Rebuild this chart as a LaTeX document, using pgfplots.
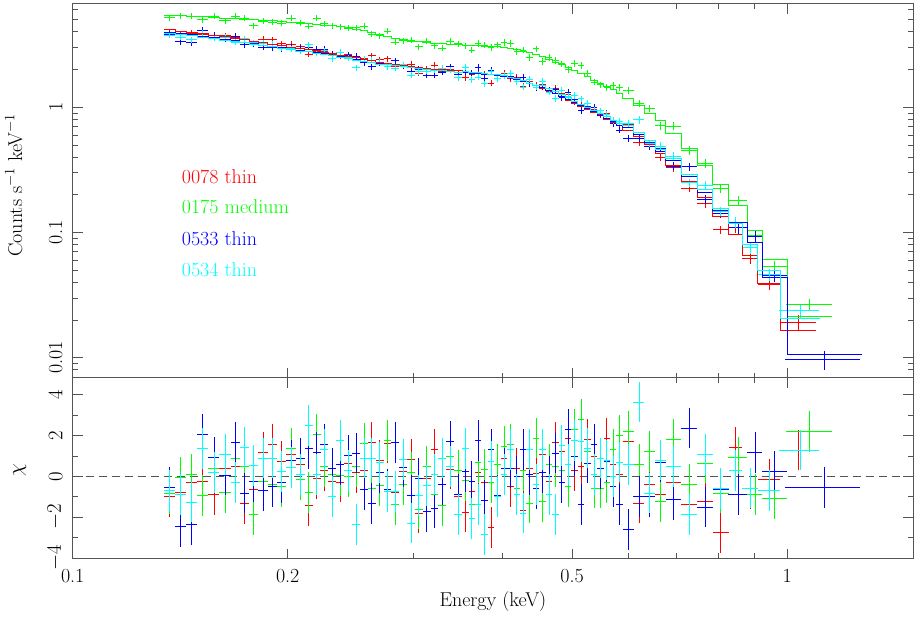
\documentclass[border=0pt]{standalone}
\usepackage{pgfplots}
\pgfplotsset{compat=1.18}
\usepackage{pgfplotstable}
\definecolor{cR}{rgb}{1,0,0}
\definecolor{cG}{rgb}{0,1,0}
\definecolor{cB}{rgb}{0,0,1}
\definecolor{cC}{rgb}{0,1,1}
\definecolor{cF}{rgb}{0.33,0.33,0.33}
\begin{document}
\pgfplotstableread{
E L fx f mR yR rR mG yG rG mB yB rB mC yC rC
0.1367 0.1343 0.0178 0.055 4.15 3.92 -1.00 5.45 5.19 -0.85 3.96 3.85 -0.52 3.90 3.75 -0.70
0.1417 0.1392 0.0178 0.055 4.05 3.87 -0.80 5.39 5.38 -0.05 3.87 3.35 -2.45 3.81 3.62 -0.90
0.1468 0.1442 0.0178 0.055 3.96 3.89 -0.30 5.33 5.35 0.08 3.78 3.29 -2.37 3.72 3.46 -1.26
0.1521 0.1495 0.0178 0.055 3.86 3.81 -0.25 5.27 4.99 -0.95 3.69 4.11 2.07 3.63 3.90 1.36
0.1577 0.1549 0.0178 0.055 3.75 3.57 -0.87 5.21 5.32 0.38 3.58 3.76 0.93 3.53 3.57 0.20
0.1634 0.1605 0.0178 0.055 3.64 3.72 0.41 5.15 4.92 -0.80 3.48 3.49 0.07 3.42 3.62 1.06
0.1689 0.1663 0.0150 0.055 3.54 3.64 0.50 5.08 5.33 0.88 3.40 3.71 1.65 3.36 3.31 -0.29
0.1740 0.1714 0.0150 0.055 3.45 3.20 -1.32 5.03 5.16 0.47 3.31 3.16 -0.82 3.28 3.54 1.42
0.1793 0.1766 0.0150 0.055 3.36 3.24 -0.65 4.98 4.47 -1.85 3.23 3.18 -0.26 3.19 3.28 0.54
0.1847 0.1820 0.0150 0.055 3.27 3.48 1.19 4.93 4.86 -0.25 3.14 3.02 -0.69 3.11 3.26 0.90
0.1903 0.1875 0.0150 0.055 3.19 3.46 1.55 4.89 4.78 -0.41 3.06 2.98 -0.49 3.03 3.18 0.90
0.1961 0.1932 0.0150 0.055 3.10 3.23 0.74 4.84 4.71 -0.49 2.98 2.93 -0.30 2.95 2.99 0.25
0.2021 0.1991 0.0150 0.055 3.02 3.20 1.06 4.79 5.16 1.39 2.90 3.02 0.77 2.87 2.94 0.44
0.2082 0.2051 0.0150 0.055 2.95 3.05 0.60 4.73 4.69 -0.16 2.83 2.97 0.87 2.80 2.82 0.10
0.2140 0.2113 0.0127 0.055 2.89 2.66 -1.42 4.66 4.46 -0.78 2.80 3.01 1.36 2.77 3.15 2.50
0.2196 0.2168 0.0127 0.055 2.82 2.80 -0.10 4.60 5.12 2.04 2.74 2.92 1.19 2.71 2.72 0.08
0.2251 0.2223 0.0127 0.055 2.76 2.81 0.30 4.53 4.65 0.50 2.68 2.91 1.55 2.65 2.84 1.30
0.2309 0.2280 0.0127 0.055 2.69 2.65 -0.25 4.46 4.48 0.10 2.61 2.67 0.41 2.58 2.44 -0.98
0.2369 0.2339 0.0127 0.055 2.61 2.57 -0.28 4.38 4.39 0.05 2.53 2.61 0.57 2.51 2.75 1.76
0.2430 0.2399 0.0127 0.055 2.54 2.63 0.64 4.30 4.30 0.00 2.46 2.60 1.01 2.44 2.48 0.30
0.2491 0.2460 0.0127 0.055 2.48 2.51 0.20 4.21 4.33 0.50 2.41 2.56 1.14 2.38 2.07 -2.37
0.2556 0.2524 0.0127 0.055 2.41 2.45 0.30 4.09 4.46 1.63 2.34 2.26 -0.65 2.31 2.42 0.90
0.2621 0.2588 0.0127 0.055 2.35 2.57 1.67 3.96 3.83 -0.60 2.28 2.11 -1.34 2.26 2.37 0.90
0.2689 0.2655 0.0127 0.055 2.29 2.39 0.80 3.83 3.74 -0.44 2.22 2.24 0.20 2.20 2.28 0.69
0.2758 0.2723 0.0127 0.055 2.24 2.44 1.63 3.69 4.05 1.75 2.20 2.12 -0.65 2.20 2.11 -0.73
0.2829 0.2793 0.0127 0.055 2.19 2.10 -0.78 3.57 3.30 -1.39 2.15 2.35 1.67 2.15 2.06 -0.74
0.2901 0.2864 0.0127 0.055 2.14 2.17 0.25 3.47 3.40 -0.38 2.10 2.15 0.46 2.10 2.19 0.82
0.2975 0.2938 0.0127 0.055 2.10 2.20 0.85 3.38 3.42 0.20 2.06 1.95 -0.93 2.06 1.80 -2.29
0.3051 0.3013 0.0127 0.055 2.07 1.87 -1.80 3.33 3.04 -1.60 2.03 2.02 -0.08 2.03 1.92 -0.95
0.3129 0.3090 0.0127 0.055 2.04 2.03 -0.08 3.29 3.38 0.49 2.00 1.81 -1.72 2.00 1.95 -0.44
0.3210 0.3170 0.0127 0.055 2.01 2.16 1.34 3.25 3.09 -0.87 1.97 1.80 -1.55 1.97 1.98 0.08
0.3292 0.3251 0.0127 0.055 1.99 1.95 -0.38 3.22 2.97 -1.42 1.95 1.91 -0.38 1.95 2.05 0.90
0.3377 0.3334 0.0127 0.055 1.97 2.01 0.36 3.19 3.36 0.98 1.93 2.11 1.72 1.93 1.98 0.49
0.3464 0.3420 0.0127 0.055 1.95 1.84 -0.98 3.16 3.21 0.30 1.91 1.82 -0.90 1.91 1.72 -1.85
0.3545 0.3508 0.0104 0.06 1.93 1.73 -1.75 3.14 3.10 -0.20 1.91 1.94 0.25 1.93 2.09 1.36
0.3619 0.3582 0.0104 0.06 1.91 1.83 -0.74 3.12 2.86 -1.39 1.89 1.86 -0.25 1.91 1.67 -2.08
0.3695 0.3657 0.0104 0.06 1.89 1.91 0.20 3.10 3.23 0.69 1.87 2.07 1.76 1.89 1.74 -1.36
0.3772 0.3733 0.0104 0.06 1.86 1.83 -0.31 3.08 3.14 0.33 1.84 1.71 -1.19 1.86 1.54 -2.86
0.3851 0.3811 0.0104 0.06 1.84 1.56 -2.50 3.06 3.00 -0.30 1.82 1.97 1.34 1.84 1.92 0.74
0.3932 0.3891 0.0104 0.06 1.81 1.70 -0.98 3.04 3.15 0.60 1.79 1.69 -0.93 1.81 1.70 -0.98
0.4014 0.3973 0.0104 0.06 1.78 1.88 0.90 3.01 3.28 1.47 1.76 1.80 0.40 1.78 1.79 0.10
0.4098 0.4056 0.0104 0.06 1.74 1.69 -0.50 2.96 3.24 1.55 1.72 1.76 0.41 1.74 1.88 1.31
0.4184 0.4141 0.0104 0.06 1.69 1.73 0.38 2.89 2.79 -0.60 1.67 1.67 0.00 1.69 1.60 -0.90
0.4271 0.4227 0.0104 0.06 1.63 1.47 -1.68 2.81 2.86 0.30 1.61 1.74 1.31 1.63 1.45 -1.80
0.4361 0.4316 0.0104 0.06 1.56 1.60 0.41 2.72 2.51 -1.31 1.54 1.55 0.10 1.56 1.68 1.31
0.4452 0.4406 0.0104 0.06 1.49 1.50 0.16 2.63 2.93 1.88 1.48 1.43 -0.60 1.49 1.45 -0.41
0.4545 0.4498 0.0104 0.06 1.42 1.51 1.09 2.52 2.33 -1.23 1.43 1.45 0.20 1.48 1.60 1.31
0.4641 0.4593 0.0104 0.06 1.35 1.33 -0.25 2.41 2.50 0.60 1.36 1.36 0.00 1.40 1.32 -0.90
0.4738 0.4689 0.0104 0.06 1.28 1.41 1.68 2.29 2.36 0.50 1.29 1.38 1.14 1.33 1.18 -1.88
0.4837 0.4787 0.0104 0.06 1.21 1.30 1.20 2.18 2.22 0.28 1.22 1.20 -0.30 1.26 1.37 1.50
0.4938 0.4887 0.0104 0.06 1.14 1.27 1.88 2.07 2.01 -0.50 1.15 1.31 2.29 1.19 1.23 0.60
0.5041 0.4989 0.0104 0.06 1.08 1.10 0.30 1.96 2.23 2.30 1.09 1.16 1.00 1.12 1.24 1.76
0.5147 0.5094 0.0104 0.06 1.02 1.05 0.50 1.85 2.16 2.78 1.03 0.944 -1.39 1.06 1.17 1.70
0.5254 0.5200 0.0104 0.06 0.965 1.07 1.80 1.75 1.88 1.20 0.975 1.01 0.65 1.00 1.08 1.39
0.5364 0.5309 0.0104 0.06 0.910 0.964 0.98 1.65 1.59 -0.57 0.919 1.00 1.55 0.946 0.952 0.10
0.5476 0.5420 0.0104 0.06 0.855 0.876 0.41 1.56 1.51 -0.57 0.864 0.885 0.40 0.889 0.937 0.90
0.5592 0.5534 0.0104 0.06 0.805 0.896 1.88 1.47 1.44 -0.30 0.813 0.849 0.74 0.837 0.877 0.80
0.5709 0.5650 0.0104 0.06 0.755 0.782 0.60 1.38 1.49 1.31 0.763 0.740 -0.50 0.785 0.785 0.00
0.5828 0.5768 0.0104 0.06 0.710 0.714 0.10 1.29 1.44 2.00 0.717 0.657 -1.39 0.738 0.769 0.70
0.5991 0.5888 0.0173 0.07 0.655 0.734 1.72 1.18 1.36 2.20 0.688 0.563 -2.60 0.714 0.744 0.60
0.6201 0.6095 0.0173 0.07 0.580 0.527 -1.31 1.03 1.07 0.60 0.609 0.566 -1.00 0.632 0.793 3.64
0.6420 0.6310 0.0173 0.07 0.500 0.486 -0.40 0.900 0.977 1.23 0.525 0.488 -1.00 0.545 0.514 -0.82
0.6645 0.6531 0.0173 0.07 0.425 0.398 -0.90 0.780 0.713 -1.23 0.446 0.468 0.70 0.463 0.489 0.80
0.6934 0.6761 0.0253 0.08 0.340 0.332 -0.30 0.620 0.709 1.80 0.374 0.340 -1.14 0.391 0.407 0.50
0.7294 0.7112 0.0253 0.08 0.255 0.227 -1.39 0.470 0.455 -0.40 0.281 0.334 2.37 0.293 0.249 -1.88
0.7674 0.7482 0.0253 0.08 0.190 0.171 -1.23 0.340 0.358 0.65 0.209 0.184 -1.50 0.219 0.238 1.06
0.8073 0.7871 0.0253 0.08 0.135 0.105 -2.76 0.240 0.224 -0.82 0.149 0.142 -0.62 0.155 0.148 -0.60
0.8468 0.8279 0.0225 0.10 0.096 0.110 1.42 nan nan nan nan nan nan nan nan nan
0.8877 0.8660 0.0248 0.10 0.066 0.062 -0.60 nan nan nan nan nan nan nan nan nan
0.9430 0.9100 0.0357 0.11 0.0393 0.0387 -0.13 nan nan nan nan nan nan nan nan nan
1.0360 0.9770 0.0583 0.13 0.0165 0.0193 1.29 nan nan nan nan nan nan nan nan nan
nan 1.0980 nan nan 0.0165 nan nan nan nan nan nan nan nan nan nan nan
0.8468 0.8279 0.0225 0.10 nan nan nan nan nan nan nan nan nan 0.118 0.1215 0.30
0.8877 0.8660 0.0248 0.10 nan nan nan nan nan nan nan nan nan 0.080 0.0754 -0.57
0.9430 0.9100 0.0357 0.11 nan nan nan nan nan nan nan nan nan 0.0497 0.0459 -0.70
1.0420 0.9770 0.0645 0.12 nan nan nan nan nan nan nan nan nan 0.0205 0.0237 1.29
nan 1.1120 nan nan nan nan nan nan nan nan nan nan nan 0.0205 nan nan
0.8536 0.8279 0.0305 0.10 nan nan nan nan nan nan 0.120 0.109 -0.90 nan nan nan
0.9013 0.8800 0.0238 0.10 nan nan nan nan nan nan 0.0836 0.0935 1.18 nan nan nan
0.9608 0.9230 0.0401 0.11 nan nan nan nan nan nan 0.0438 0.0451 0.26 nan nan nan
1.1280 1.0000 0.1210 0.17 nan nan nan nan nan nan 0.0107 0.0097 -0.56 nan nan nan
nan 1.2730 nan nan nan nan nan nan nan nan 0.0107 nan nan nan nan nan
0.8536 0.8279 0.0305 0.09 nan nan nan 0.165 0.179 0.93 nan nan nan nan nan nan
0.9013 0.8800 0.0238 0.09 nan nan nan 0.104 0.0956 -0.90 nan nan nan nan nan nan
0.9608 0.9230 0.0401 0.10 nan nan nan 0.0605 0.0538 -1.10 nan nan nan nan nan nan
1.0757 1.0000 0.0729 0.11 nan nan nan 0.0215 0.0267 2.20 nan nan nan nan nan nan
nan 1.1570 nan nan nan nan nan 0.0215 nan nan nan nan nan nan nan nan
}\data
\begin{tikzpicture}[font=\fontsize{20}{24}\selectfont]
\useasboundingbox (-72.7pt,-58pt) rectangle (844.3pt,559pt);
\begin{axis}[scale only axis, width=840.3pt, height=374pt, at={(0pt,181pt)}, anchor=south west,
  xmode=log, ymode=log, xmin=0.1, xmax=1.5, ymin=0.00689, ymax=6.67,
  axis line style={cF, line width=1pt},
  tick style={cF, line width=0.8pt},
  major tick length=10pt, minor tick length=5.5pt,
  xtick={0.1,0.2,0.5,1}, minor xtick={0.3,0.4,0.6,0.7,0.8,0.9},
  xticklabels={},
  ytick={0.01,0.1,1}, yticklabels={0.01,0.1,1},
  minor ytick={0.007,0.008,0.009,0.02,0.03,0.04,0.05,0.06,0.07,0.08,0.09,0.2,0.3,0.4,0.5,0.6,0.7,0.8,0.9,2,3,4,5,6},
  yticklabel style={rotate=90, anchor=south, inner ysep=10pt, inner xsep=0pt},
  ylabel={Counts s$^{-1}$ keV$^{-1}$},
  ylabel style={at={(axis description cs:-0.0603,0.516)}, anchor=base},
]
\addplot[color=cR, draw=none, mark=none, forget plot, error bars/.cd, x dir=both, x explicit relative, y dir=both, y explicit relative, error mark=none, error bar style={draw=cR, line width=0.75pt}] table[x=E, y=yR, x error=fx, y error=f] {\data};
\addplot[color=cG, draw=none, mark=none, forget plot, error bars/.cd, x dir=both, x explicit relative, y dir=both, y explicit relative, error mark=none, error bar style={draw=cG, line width=0.75pt}] table[x=E, y=yG, x error=fx, y error=f] {\data};
\addplot[color=cB, draw=none, mark=none, forget plot, error bars/.cd, x dir=both, x explicit relative, y dir=both, y explicit relative, error mark=none, error bar style={draw=cB, line width=0.75pt}] table[x=E, y=yB, x error=fx, y error=f] {\data};
\addplot[color=cC, draw=none, mark=none, forget plot, error bars/.cd, x dir=both, x explicit relative, y dir=both, y explicit relative, error mark=none, error bar style={draw=cC, line width=0.75pt}] table[x=E, y=yC, x error=fx, y error=f] {\data};
\addplot[draw=cR, line width=0.9pt, const plot mark left, mark=none, forget plot] table[x=L, y=mR] {\data};
\addplot[draw=cG, line width=0.9pt, const plot mark left, mark=none, forget plot] table[x=L, y=mG] {\data};
\addplot[draw=cB, line width=0.9pt, const plot mark left, mark=none, forget plot] table[x=L, y=mB] {\data};
\addplot[draw=cC, line width=0.9pt, const plot mark left, mark=none, forget plot] table[x=L, y=mC] {\data};
\node[anchor=base west, text=cR] at (axis description cs:0.1257,0.5206) {0078 thin};
\node[anchor=base west, text=cG] at (axis description cs:0.1257,0.4406) {0175 medium};
\node[anchor=base west, text=cB] at (axis description cs:0.1257,0.3556) {0533 thin};
\node[anchor=base west, text=cC] at (axis description cs:0.1257,0.2727) {0534 thin};
\end{axis}
\begin{axis}[scale only axis, width=840.3pt, height=181pt, at={(0pt,0pt)}, anchor=south west,
  xmode=log, xmin=0.1, xmax=1.5, ymin=-4.05, ymax=4.82,
  axis line style={cF, line width=1pt},
  tick style={cF, line width=0.8pt},
  major tick length=10pt, minor tick length=5.5pt,
  xtick={0.1,0.2,0.5,1}, minor xtick={0.3,0.4,0.6,0.7,0.8,0.9},
  xticklabels={0.1,0.2,0.5,1},
  xticklabel style={anchor=north, inner ysep=10.5pt},
  ytick={-4,-2,0,2,4}, minor ytick={-3,-1,1,3},
  yticklabel style={rotate=90, anchor=south, inner ysep=10pt, inner xsep=0pt},
  xlabel={Energy (keV)},
  xlabel style={at={(axis description cs:0.5,-0.265)}, anchor=base},
  ylabel={$\chi$},
  ylabel style={at={(axis description cs:-0.0603,0.492)}, anchor=base},
]
\addplot[draw=cF, line width=0.8pt, dash pattern=on 8pt off 5pt, forget plot] coordinates {(0.1,0) (1.5,0)};
\addplot[color=cR, draw=none, mark=none, forget plot, error bars/.cd, x dir=both, x explicit relative, y dir=both, y fixed=1, error mark=none, error bar style={draw=cR, line width=0.75pt}] table[x=E, y=rR, x error=fx] {\data};
\addplot[color=cG, draw=none, mark=none, forget plot, error bars/.cd, x dir=both, x explicit relative, y dir=both, y fixed=1, error mark=none, error bar style={draw=cG, line width=0.75pt}] table[x=E, y=rG, x error=fx] {\data};
\addplot[color=cB, draw=none, mark=none, forget plot, error bars/.cd, x dir=both, x explicit relative, y dir=both, y fixed=1, error mark=none, error bar style={draw=cB, line width=0.75pt}] table[x=E, y=rB, x error=fx] {\data};
\addplot[color=cC, draw=none, mark=none, forget plot, error bars/.cd, x dir=both, x explicit relative, y dir=both, y fixed=1, error mark=none, error bar style={draw=cC, line width=0.75pt}] table[x=E, y=rC, x error=fx] {\data};
\end{axis}
\end{tikzpicture}
\end{document}
